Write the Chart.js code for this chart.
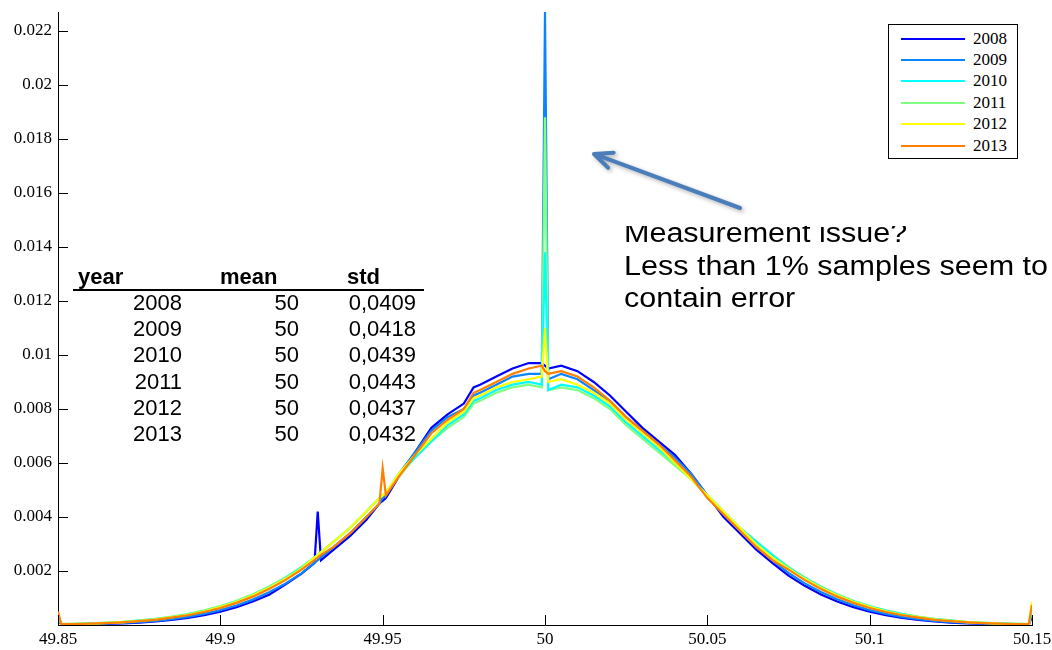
<!DOCTYPE html>
<html>
<head>
<meta charset="utf-8">
<script src="https://cdn.jsdelivr.net/npm/chart.js@4.4.0/dist/chart.umd.min.js"></script>
<style>
    body { margin: 0; background: #fff; }
    #wrap { position: relative; width: 1052px; height: 650px; overflow: hidden; background: #fff; }
    #chart { position: absolute; left: 0; top: 0; }
    #legend { position: absolute; left: 888px; top: 24px; width: 128px; height: 133px; border: 1px solid #000; background: #fff; font-family: 'Liberation Serif', serif; font-size: 17px; color: #000; }
    #legend .row { position: absolute; left: 0; width: 128px; height: 20px; }
    #legend .row i { position: absolute; left: 12px; width: 64px; height: 2px; top: 9px; }
    #legend .row span { position: absolute; left: 84px; top: 0; line-height: 20px; }
    .cell { position: absolute; font-family: 'Liberation Sans', Arial, sans-serif; font-size: 22px; line-height: 26px; color: #000; white-space: nowrap; }
    .head { font-weight: bold; }
    #rule { position: absolute; left: 73px; top: 289px; width: 351px; height: 2px; background: #000; }
    #note { position: absolute; left: 624px; top: 226px; width: 428px; height: 100px; overflow: hidden; }
    #note div { position: absolute; left: 0; top: -8.6px; font-family: 'Liberation Sans', Arial, sans-serif; font-size: 27px; line-height: 32.5px; color: #000; white-space: nowrap; transform: scaleX(1.13); transform-origin: 0 0; }
</style>
</head>
<body>
<div id="wrap">
    <canvas id="chart" width="1052" height="650"></canvas>
    <div id="legend"></div>
    <div id="table"></div>
    <div id="note"><div>Measurement issue?<br>Less than 1% samples seem to<br>contain error</div></div>
</div>
<script>
// frequency bins (Hz)
const freq = [49.85, 49.851, 49.855, 49.86, 49.865, 49.87, 49.875, 49.88, 49.885, 49.89, 49.895, 49.9, 49.905, 49.91, 49.915, 49.92, 49.925, 49.929, 49.93, 49.931, 49.935, 49.94, 49.945, 49.949, 49.95, 49.951, 49.955, 49.96, 49.965, 49.97, 49.975, 49.978, 49.98, 49.985, 49.99, 49.995, 49.999, 50.0, 50.001, 50.005, 50.01, 50.015, 50.02, 50.025, 50.03, 50.035, 50.04, 50.045, 50.05, 50.055, 50.06, 50.065, 50.07, 50.075, 50.08, 50.085, 50.09, 50.095, 50.1, 50.105, 50.11, 50.115, 50.12, 50.125, 50.13, 50.135, 50.14, 50.145, 50.149, 50.15];

const years = ['2008', '2009', '2010', '2011', '2012', '2013'];
const colors = ['#0000ff', '#0a84ff', '#00ffff', '#80ff80', '#ffff00', '#ff8000'];
const drawOrder = [6, 5, 3, 4, 2, 1];

const y2008 = [0.0002, 0.00002, 0.00002, 0.00003, 0.00004, 0.00006, 0.00009, 0.00013, 0.00019, 0.00026, 0.00036, 0.00049, 0.00066, 0.00087, 0.00112, 0.0015, 0.0019, 0.0023, 0.0042, 0.0024, 0.0028, 0.0033, 0.0039, 0.0045, 0.0046, 0.0047, 0.0055, 0.0064, 0.0073, 0.0078, 0.0082, 0.0088, 0.0089, 0.0092, 0.0095, 0.0097, 0.0097, 0.0096, 0.0095, 0.0096, 0.0094, 0.0090, 0.0085, 0.0079, 0.0073, 0.0068, 0.0063, 0.0056, 0.0048, 0.0040, 0.0034, 0.0028, 0.0023, 0.00183, 0.00145, 0.00113, 0.00087, 0.00066, 0.00049, 0.00036, 0.00026, 0.00019, 0.00013, 0.00009, 0.00006, 0.00004, 0.00003, 0.00002, 0.00002, 0.0003];
const y2009 = [0.0003, 0.00002, 0.00002, 0.00003, 0.00005, 0.00008, 0.00011, 0.00015, 0.00022, 0.00030, 0.00041, 0.00055, 0.00072, 0.00094, 0.00121, 0.00153, 0.00191, 0.0023, 0.0024, 0.0025, 0.0029, 0.0034, 0.0040, 0.0045, 0.0047, 0.0048, 0.0056, 0.0064, 0.0072, 0.0077, 0.0080, 0.0085, 0.0086, 0.0089, 0.0092, 0.0093, 0.0093, 0.0227, 0.0091, 0.0093, 0.0091, 0.0087, 0.0083, 0.0077, 0.0072, 0.0067, 0.0062, 0.0056, 0.0048, 0.0041, 0.0035, 0.0029, 0.0024, 0.00193, 0.00154, 0.00122, 0.00095, 0.00073, 0.00055, 0.00041, 0.00030, 0.00022, 0.00015, 0.00011, 0.00008, 0.00005, 0.00003, 0.00002, 0.00002, 0.0004];
const y2010 = [0.0004, 0.00003, 0.00004, 0.00006, 0.00008, 0.00011, 0.00016, 0.00022, 0.00029, 0.00039, 0.00052, 0.00068, 0.00087, 0.00111, 0.00140, 0.00173, 0.00211, 0.0025, 0.0026, 0.0027, 0.0031, 0.0036, 0.0042, 0.0047, 0.0048, 0.0049, 0.0056, 0.0062, 0.0068, 0.0074, 0.0078, 0.0083, 0.0084, 0.0087, 0.0089, 0.0090, 0.0089, 0.0138, 0.0087, 0.0089, 0.0088, 0.0085, 0.0081, 0.0075, 0.0070, 0.0065, 0.0060, 0.0054, 0.0048, 0.0042, 0.0036, 0.0031, 0.0026, 0.00212, 0.00174, 0.00141, 0.00112, 0.00088, 0.00069, 0.00053, 0.00040, 0.00029, 0.00022, 0.00016, 0.00011, 0.00008, 0.00006, 0.00004, 0.00003, 0.00056];
const y2011 = [0.0004, 0.00003, 0.00004, 0.00006, 0.00009, 0.00012, 0.00017, 0.00023, 0.00031, 0.00041, 0.00054, 0.00070, 0.00090, 0.00114, 0.00143, 0.00176, 0.00215, 0.0025, 0.0026, 0.0027, 0.0031, 0.0036, 0.0042, 0.0047, 0.0048, 0.0049, 0.0055, 0.0062, 0.0068, 0.0073, 0.0077, 0.0082, 0.0083, 0.0086, 0.0088, 0.0089, 0.0088, 0.0188, 0.0087, 0.0088, 0.0087, 0.0084, 0.0080, 0.0074, 0.0069, 0.0064, 0.0059, 0.0054, 0.0048, 0.0042, 0.0036, 0.0031, 0.0026, 0.00215, 0.00176, 0.00143, 0.00114, 0.00090, 0.00070, 0.00054, 0.00041, 0.00031, 0.00023, 0.00017, 0.00012, 0.00009, 0.00006, 0.00004, 0.00003, 0.00056];
const y2012 = [0.00045, 0.00003, 0.00004, 0.00005, 0.00008, 0.00011, 0.00015, 0.00021, 0.00029, 0.00038, 0.00051, 0.00067, 0.00086, 0.00110, 0.00138, 0.00171, 0.00209, 0.0025, 0.0026, 0.0027, 0.0031, 0.0036, 0.0042, 0.0047, 0.0048, 0.0049, 0.0056, 0.0063, 0.0069, 0.0075, 0.0079, 0.0084, 0.0085, 0.0088, 0.0090, 0.0091, 0.0092, 0.0110, 0.0090, 0.0091, 0.0089, 0.0086, 0.0082, 0.0076, 0.0071, 0.0066, 0.0060, 0.0054, 0.0048, 0.0042, 0.0036, 0.0030, 0.0025, 0.00209, 0.00171, 0.00138, 0.00110, 0.00086, 0.00067, 0.00051, 0.00038, 0.00029, 0.00021, 0.00015, 0.00011, 0.00008, 0.00005, 0.00004, 0.00003, 0.00086];
const y2013 = [0.0005, 0.00003, 0.00003, 0.00005, 0.00007, 0.00010, 0.00014, 0.00019, 0.00027, 0.00036, 0.00048, 0.00063, 0.00082, 0.00105, 0.00133, 0.00166, 0.00205, 0.0024, 0.0025, 0.0026, 0.0029, 0.0034, 0.0040, 0.0045, 0.0058, 0.0048, 0.0055, 0.0063, 0.0071, 0.0076, 0.0080, 0.0086, 0.0087, 0.0090, 0.0093, 0.0095, 0.0096, 0.0094, 0.0093, 0.0094, 0.0092, 0.0088, 0.0083, 0.0077, 0.0072, 0.0067, 0.0061, 0.0055, 0.0047, 0.0041, 0.0035, 0.0029, 0.0024, 0.00205, 0.00166, 0.00133, 0.00105, 0.00082, 0.00063, 0.00048, 0.00036, 0.00027, 0.00019, 0.00014, 0.00010, 0.00007, 0.00005, 0.00003, 0.00003, 0.00074];
const series = [y2008, y2009, y2010, y2011, y2012, y2013];

const xTicks = [49.85, 49.9, 49.95, 50, 50.05, 50.1, 50.15];
const yTicks = [0.002, 0.004, 0.006, 0.008, 0.01, 0.012, 0.014, 0.016, 0.018, 0.02, 0.022];

// summary table
const tableYears = ['2008', '2009', '2010', '2011', '2012', '2013'];
const tableMean = ['50', '50', '50', '50', '50', '50'];
const tableStd = ['0,0409', '0,0418', '0,0439', '0,0443', '0,0437', '0,0432'];

const insideTicks = {
    id: 'insideTicks',
    afterDraw(chart) {
        const { ctx, chartArea: a, scales: { x, y } } = chart;
        ctx.save();
        ctx.strokeStyle = '#000';
        ctx.lineWidth = 1;
        ctx.beginPath();
        y.ticks.forEach(t => {
            const py = Math.round(y.getPixelForValue(t.value)) + 0.5;
            ctx.moveTo(a.left, py);
            ctx.lineTo(a.left + 10, py);
        });
        x.ticks.forEach(t => {
            const px = Math.round(x.getPixelForValue(t.value)) + 0.5;
            ctx.moveTo(px, a.bottom);
            ctx.lineTo(px, a.bottom - 10);
        });
        ctx.stroke();
        ctx.restore();
    }
};

const arrow = {
    id: 'arrow',
    afterDraw(chart) {
        const ctx = chart.ctx;
        const tail = [740, 208], tip = [594, 154];
        const dx = tip[0] - tail[0], dy = tip[1] - tail[1];
        const len = Math.hypot(dx, dy);
        const ux = dx / len, uy = dy / len;
        const bx = tip[0] - 18 * ux, by = tip[1] - 18 * uy;
        ctx.save();
        ctx.strokeStyle = '#4a7ebb';
        ctx.lineWidth = 4;
        ctx.lineCap = 'round';
        ctx.lineJoin = 'round';
        ctx.shadowColor = 'rgba(0,0,0,0.3)';
        ctx.shadowBlur = 4;
        ctx.shadowOffsetX = 2;
        ctx.shadowOffsetY = 2;
        ctx.beginPath();
        ctx.moveTo(tail[0], tail[1]);
        ctx.lineTo(tip[0] - 2 * ux, tip[1] - 2 * uy);
        ctx.moveTo(bx - 8 * uy, by + 8 * ux);
        ctx.lineTo(tip[0], tip[1]);
        ctx.lineTo(bx + 8 * uy, by - 8 * ux);
        ctx.stroke();
        ctx.restore();
    }
};

const datasets = years.map((yr, i) => ({
    label: yr,
    data: freq.map((f, j) => ({ x: f, y: series[i][j] })),
    borderColor: colors[i],
    backgroundColor: colors[i],
    borderWidth: 2.2,
    pointRadius: 0,
    tension: 0,
    order: drawOrder[i]
}));

const fmt = (v, d) => String(Number(v.toFixed(d)));

new Chart(document.getElementById('chart'), {
    type: 'line',
    data: { datasets },
    options: {
        responsive: false,
        animation: false,
        devicePixelRatio: 1,
        layout: { padding: { top: 12, right: 20, left: 0, bottom: 0 } },
        plugins: { legend: { display: false }, tooltip: { enabled: false } },
        scales: {
            x: {
                type: 'linear',
                min: 49.85,
                max: 50.15,
                grid: { display: false, drawTicks: false },
                border: { display: true, color: '#000', width: 1 },
                afterBuildTicks: s => { s.ticks = xTicks.map(v => ({ value: v })); },
                afterFit: s => { s.height = 25; s.paddingLeft = 0; s.paddingRight = 0; },
                ticks: {
                    autoSkip: false,
                    maxRotation: 0,
                    padding: 4,
                    color: '#000',
                    font: { family: 'Liberation Serif', size: 17 },
                    callback: v => fmt(v, 2)
                }
            },
            y: {
                min: 0,
                max: 0.0227,
                grid: { display: false, drawTicks: false },
                border: { display: true, color: '#000', width: 1 },
                afterBuildTicks: s => { s.ticks = yTicks.map(v => ({ value: v })); },
                afterFit: s => { s.width = 58; s.paddingTop = 0; s.paddingBottom = 0; },
                ticks: {
                    autoSkip: false,
                    padding: 6,
                    color: '#000',
                    font: { family: 'Liberation Serif', size: 17 },
                    callback: v => fmt(v, 3)
                }
            }
        }
    },
    plugins: [insideTicks, arrow]
});

// legend
const legend = document.getElementById('legend');
years.forEach((yr, i) => {
    const row = document.createElement('div');
    row.className = 'row';
    row.style.top = (3.5 + 21.4 * i) + 'px';
    row.innerHTML = `<i style="background:${colors[i]}"></i><span>${yr}</span>`;
    legend.appendChild(row);
});

// stats table
const table = document.getElementById('table');
const addCell = (text, left, top, width, align, cls) => {
    const d = document.createElement('div');
    d.className = 'cell' + (cls ? ' ' + cls : '');
    d.style.left = left + 'px';
    d.style.top = top + 'px';
    d.style.width = width + 'px';
    d.style.textAlign = align;
    d.textContent = text;
    table.appendChild(d);
};
addCell('year', 78, 264.4, 80, 'left', 'head');
addCell('mean', 220, 264.4, 80, 'left', 'head');
addCell('std', 347, 264.4, 80, 'left', 'head');
const rule = document.createElement('div');
rule.id = 'rule';
table.appendChild(rule);
tableYears.forEach((yr, i) => {
    const top = 290 + 26.2 * i;
    addCell(yr, 102, top, 80, 'right');
    addCell(tableMean[i], 219, top, 80, 'right');
    addCell(tableStd[i], 316, top, 100, 'right');
});
</script>
</body>
</html>
